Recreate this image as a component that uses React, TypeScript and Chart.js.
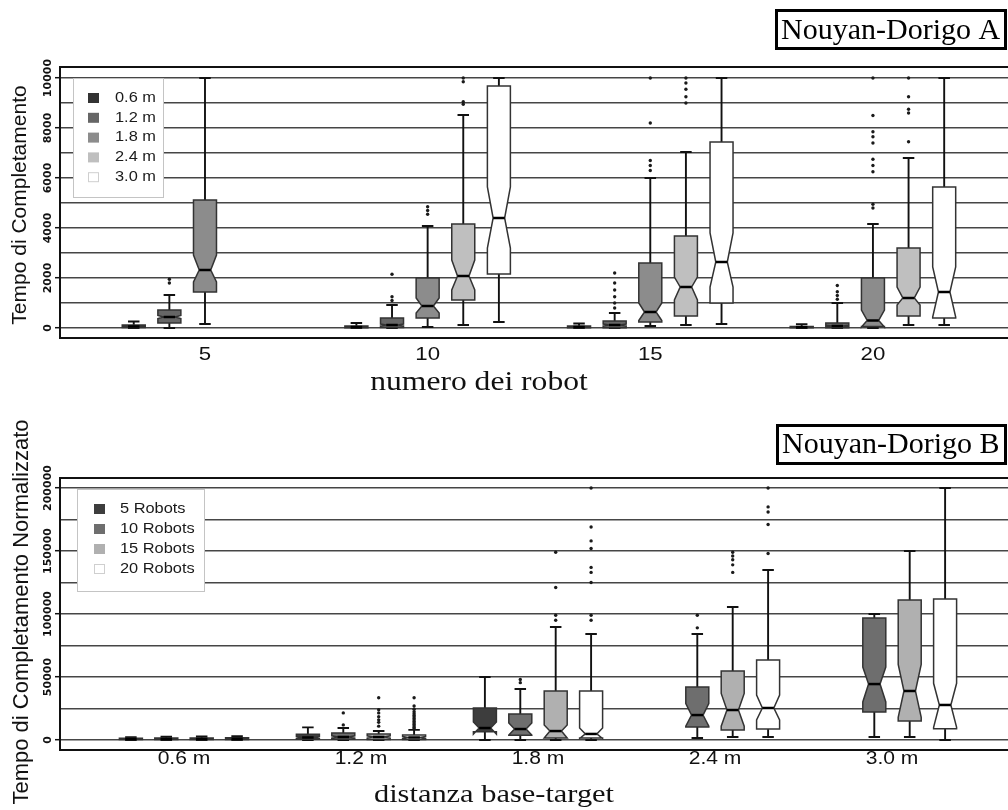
import React, { useEffect, useRef } from 'react';
import { Chart, registerables } from 'chart.js';

Chart.register(...registerables);

// ---------- categories / labels ----------
const robotCounts = [5, 10, 15, 20];
const robotTickLabels = ['5', '10', '15', '20'];
const distances = [0.6, 1.2, 1.8, 2.4, 3.0];
const distanceLabels = ['0.6 m', '1.2 m', '1.8 m', '2.4 m', '3.0 m'];
const robotSeriesLabels = ['5 Robots', '10 Robots', '15 Robots', '20 Robots'];

const yGridA = [0, 1000, 2000, 3000, 4000, 5000, 6000, 7000, 8000, 9000, 10000];
const yTickLabelsA = [0, 2000, 4000, 6000, 8000, 10000];
const yGridB = [0, 25000, 50000, 75000, 100000, 125000, 150000, 175000, 200000];
const yTickLabelsB = [0, 50000, 100000, 150000, 200000];

// ---------- chart A: box stats per robot count ----------
// [whiskerLow, q1, notchLow, median, notchHigh, q3, whiskerHigh]
const boxA06 = [[0, 20, 30, 60, 90, 120, 260], [0, 10, 20, 40, 60, 80, 200], [0, 10, 20, 40, 60, 80, 180], [0, 10, 15, 30, 45, 60, 150]];
const boxA12 = [[0, 200, 380, 440, 500, 720, 1320], [0, 20, 80, 120, 160, 400, 920], [0, 10, 80, 120, 160, 280, 600], [0, 10, 50, 80, 110, 200, 1000]];
const boxA18 = [[160, 1440, 1840, 2320, 2920, 5120, 10000], [40, 400, 600, 880, 1200, 2000, 4080], [80, 240, 300, 640, 1000, 2600, 6000], [0, 60, 40, 300, 720, 2000, 4160]];
const boxA24 = [null, [120, 1120, 1520, 2080, 2720, 4160, 8520], [120, 480, 1120, 1640, 2040, 3680, 7040], [120, 480, 920, 1200, 1640, 3200, 6800]];
const boxA30 = [null, [240, 2160, 3200, 4400, 5640, 9680, 10000], [160, 1000, 1640, 2640, 3800, 7440, 10000], [120, 400, 440, 1440, 2440, 5640, 10000]];

const outA06 = [[], [], [], []];
const outA12 = [[1800, 1950], [1100, 1250, 2150], [800, 1000, 1250, 1520, 1800, 2200], [1150, 1300, 1450, 1700]];
const outA18 = [[], [4550, 4700, 4850], [6300, 6500, 6700, 8200, 10000], [4800, 4950, 6250, 6500, 6750, 7400, 7650, 7850, 8500, 10000]];
const outA24 = [[], [8950, 9050, 9850, 10000], [9000, 9250, 9550, 9800, 10000], [7450, 8600, 8750, 9250, 10000]];
const outA30 = [[], [], [], []];

// ---------- chart B: box stats per distance ----------
const boxB05 = [[0, 300, 500, 800, 1100, 1300, 2200], [0, 500, 1200, 2000, 2800, 4500, 10000], [0, 6500, 4700, 9500, 14300, 25400, 50000], null, null];
const boxB10 = [[0, 300, 600, 900, 1200, 1500, 2600], [0, 500, 1500, 2400, 3300, 5500, 9500], [0, 3800, 4000, 8700, 13500, 20600, 40500], [1600, 10300, 11000, 19800, 29000, 42100, 84100], [2400, 22200, 30200, 44400, 57900, 96800, 100000]];
const boxB15 = [[0, 300, 600, 900, 1200, 1500, 2800], [0, 400, 1500, 2400, 3300, 4800, 7100], [0, 1600, 1600, 7100, 11900, 38900, 89700], [2400, 7900, 11000, 23800, 37000, 54800, 105600], [2400, 15100, 18000, 38900, 60000, 111100, 150000]];
const boxB20 = [[0, 300, 600, 1000, 1400, 1800, 3000], [0, 300, 1200, 2000, 2800, 4000, 8000], [0, 1600, 1200, 4800, 9500, 38900, 84100], [2400, 8700, 15900, 25400, 35700, 63500, 134900], [0, 9000, 10000, 27800, 45000, 112000, 200000]];

const outB05 = [[], [], [], [], []];
const outB10 = [[], [12000, 21500], [45500, 48000], [89000, 99000], []];
const outB15 = [[], [11000, 14000, 16000, 18500, 21500, 24000, 33500], [95000, 99000, 121000, 149000], [133000, 139000, 143000, 146000, 149000], []];
const outB20 = [[], [9000, 10000, 11200, 12300, 13500, 14600, 15800, 17000, 18200, 19500, 20800, 22500, 24500, 27000, 33500], [95000, 99000, 125000, 133000, 137000, 152000, 158000, 169000, 200000], [148000, 171000, 181000, 185000, 200000], []];

// ---------- styles ----------
const fillsA = ['#333333', '#666666', '#8c8c8c', '#bfbfbf', '#ffffff'];
const fillsB = ['#3d3d3d', '#6e6e6e', '#b0b0b0', '#ffffff'];

type Stats = number[] | null;
interface Series { label: string; color: string; boxes: Stats[]; outliers: number[][] }
interface Spec {
  groups: number[]; groupLabels: string[]; step: number; series: Series[];
  xMin: number; xMax: number; yMin: number; yMax: number;
  yGrid: number[]; yLabels: number[];
  padTop: number; axisH: number; axisW: number;
  title: string; titleRect: number[]; titleBase: number[];
  xTitle: string; xTitlePos: number[]; xTitleFont: string;
  yTitle: string; yTitlePos: number[]; yTitleFont: string;
  xLabelY: number; xLabelFont: string;
  legend: { x: number; y: number; w: number; h: number; row0: number; rowStep: number; sqX: number; textX: number };
}

const SX = 1.17;

function drawText(ctx: CanvasRenderingContext2D, s: string, x: number, y: number, font: string,
  o: { align?: CanvasTextAlign; baseline?: CanvasTextBaseline; sx?: number; rot?: number; color?: string } = {}) {
  ctx.save();
  ctx.translate(x, y);
  if (o.rot) ctx.rotate(o.rot);
  if (o.sx) ctx.scale(o.sx, 1);
  ctx.font = font;
  ctx.fillStyle = o.color || '#111';
  ctx.textAlign = o.align || 'center';
  ctx.textBaseline = o.baseline || 'alphabetic';
  ctx.fillText(s, 0, 0);
  ctx.restore();
}

function offsetFn(spec: Spec) {
  const n = spec.series.length;
  return (j: number) => (j - (n - 1) / 2) * spec.step;
}

function makePlugin(spec: Spec) {
  const off = offsetFn(spec);
  return {
    id: 'boxplotDraw',
    beforeDatasetsDraw(chart: any) {
      const { ctx, scales } = chart;
      const xs = scales.x, ys = scales.y;
      const hw = 11.5;
      ctx.save();
      spec.series.forEach((s, j) => {
        s.boxes.forEach((b, i) => {
          if (!b) return;
          const [lo, q1, nlo, med, nhi, q3, hi] = b.map((v) => ys.getPixelForValue(v));
          const cx = xs.getPixelForValue(spec.groups[i] + off(j));
          ctx.strokeStyle = '#111';
          ctx.lineWidth = 1.9;
          ctx.beginPath();
          ctx.moveTo(cx, q1); ctx.lineTo(cx, lo);
          ctx.moveTo(cx, q3); ctx.lineTo(cx, hi);
          ctx.moveTo(cx - hw / 2, lo); ctx.lineTo(cx + hw / 2, lo);
          ctx.moveTo(cx - hw / 2, hi); ctx.lineTo(cx + hw / 2, hi);
          ctx.stroke();
          ctx.beginPath();
          ctx.moveTo(cx - hw, q1);
          ctx.lineTo(cx - hw, nlo);
          ctx.lineTo(cx - hw / 2, med);
          ctx.lineTo(cx - hw, nhi);
          ctx.lineTo(cx - hw, q3);
          ctx.lineTo(cx + hw, q3);
          ctx.lineTo(cx + hw, nhi);
          ctx.lineTo(cx + hw / 2, med);
          ctx.lineTo(cx + hw, nlo);
          ctx.lineTo(cx + hw, q1);
          ctx.closePath();
          ctx.fillStyle = s.color;
          ctx.fill();
          ctx.strokeStyle = '#333';
          ctx.lineWidth = 1.5;
          ctx.stroke();
          ctx.strokeStyle = '#000';
          ctx.lineWidth = 2.5;
          ctx.beginPath();
          ctx.moveTo(cx - hw / 2, med); ctx.lineTo(cx + hw / 2, med);
          ctx.stroke();
        });
      });
      ctx.restore();
    },
    afterDatasetsDraw(chart: any) {
      const { ctx, chartArea } = chart;
      ctx.save();
      ctx.strokeStyle = '#111';
      ctx.lineWidth = 2;
      ctx.beginPath();
      ctx.moveTo(chartArea.left - 1, chartArea.top);
      ctx.lineTo(chartArea.right, chartArea.top);
      ctx.stroke();
      const L = spec.legend;
      ctx.fillStyle = '#fff';
      ctx.fillRect(L.x, L.y, L.w, L.h);
      ctx.strokeStyle = '#c4c4c4';
      ctx.lineWidth = 1;
      ctx.strokeRect(L.x, L.y, L.w, L.h);
      spec.series.forEach((s, k) => {
        const cy = L.row0 + k * L.rowStep;
        ctx.fillStyle = s.color;
        ctx.fillRect(L.sqX, cy - 5, 11, 10);
        if (s.color === '#ffffff') {
          ctx.strokeStyle = '#cfcfcf';
          ctx.lineWidth = 1;
          ctx.strokeRect(L.sqX + 0.5, cy - 4.5, 10, 9);
        }
        drawText(ctx, s.label, L.textX, cy, '14px "Liberation Sans"', { align: 'left', baseline: 'middle', sx: SX, color: '#1a1a1a' });
      });
      ctx.restore();
    },
    afterDraw(chart: any) {
      const { ctx, scales } = chart;
      const xs = scales.x, ys = scales.y;
      spec.yLabels.forEach((v) => {
        drawText(ctx, String(v), 51, ys.getPixelForValue(v), 'bold 11px "DejaVu Sans"', { rot: -Math.PI / 2, align: 'center', baseline: 'alphabetic', color: '#111' });
      });
      spec.groups.forEach((g, i) => {
        drawText(ctx, spec.groupLabels[i], xs.getPixelForValue(g), spec.xLabelY, spec.xLabelFont, { baseline: 'middle', sx: SX, color: '#111' });
      });
      drawText(ctx, spec.xTitle, spec.xTitlePos[0], spec.xTitlePos[1], spec.xTitleFont, { sx: SX, color: '#111' });
      drawText(ctx, spec.yTitle, spec.yTitlePos[0], spec.yTitlePos[1], spec.yTitleFont, { rot: -Math.PI / 2, color: '#111' });
      ctx.save();
      ctx.fillStyle = '#fff';
      const r = spec.titleRect;
      ctx.fillRect(r[0], r[1], r[2], r[3]);
      ctx.strokeStyle = '#000';
      ctx.lineWidth = 3;
      ctx.strokeRect(r[0], r[1], r[2], r[3]);
      ctx.restore();
      drawText(ctx, spec.title, spec.titleBase[0], spec.titleBase[1], '30px "Liberation Serif"', { align: 'left', color: '#000' });
    },
  };
}

function makeConfig(spec: Spec): any {
  const off = offsetFn(spec);
  const labelSet = new Set(spec.yLabels);
  return {
    type: 'scatter',
    data: {
      datasets: spec.series.map((s, j) => ({
        label: s.label,
        data: s.outliers.flatMap((arr, i) => arr.map((v) => ({ x: spec.groups[i] + off(j), y: v }))),
        pointRadius: 1.7,
        pointBackgroundColor: '#1a1a1a',
        pointBorderWidth: 0,
        pointHoverRadius: 0,
      })),
    },
    options: {
      animation: false,
      responsive: false,
      events: [],
      layout: { padding: { top: spec.padTop, left: 0, right: 0, bottom: 0 }, autoPadding: false },
      plugins: { legend: { display: false }, tooltip: { enabled: false }, title: { display: false } },
      scales: {
        x: {
          type: 'linear', min: spec.xMin, max: spec.xMax, bounds: 'data',
          afterBuildTicks: (sc: any) => { sc.ticks = spec.groups.map((v) => ({ value: v })); },
          afterFit: (sc: any) => { sc.height = spec.axisH; },
          ticks: { display: false },
          grid: { display: false, drawTicks: false },
          border: { display: true, color: '#111', width: 2 },
        },
        y: {
          type: 'linear', min: spec.yMin, max: spec.yMax, bounds: 'data',
          afterBuildTicks: (sc: any) => { sc.ticks = spec.yGrid.map((v) => ({ value: v })); },
          afterFit: (sc: any) => { sc.width = spec.axisW; },
          ticks: { display: false },
          grid: {
            color: '#464646', lineWidth: 1.4, drawTicks: true, tickLength: 5, tickWidth: 1.5,
            tickColor: (c: any) => (c.tick && labelSet.has(c.tick.value) ? '#111' : 'rgba(0,0,0,0)'),
          },
          border: { display: true, color: '#111', width: 2 },
        },
      },
    },
    plugins: [makePlugin(spec)],
  };
}

const specA: Spec = {
  groups: robotCounts, groupLabels: robotTickLabels, step: 0.8,
  series: [
    { label: distanceLabels[0], color: fillsA[0], boxes: boxA06, outliers: outA06 },
    { label: distanceLabels[1], color: fillsA[1], boxes: boxA12, outliers: outA12 },
    { label: distanceLabels[2], color: fillsA[2], boxes: boxA18, outliers: outA18 },
    { label: distanceLabels[3], color: fillsA[3], boxes: boxA24, outliers: outA24 },
    { label: distanceLabels[4], color: fillsA[4], boxes: boxA30, outliers: outA30 },
  ],
  xMin: 1.744, xMax: 23.033, yMin: -400, yMax: 10440,
  yGrid: yGridA, yLabels: yTickLabelsA,
  padTop: 67, axisH: 62, axisW: 60,
  title: 'Nouyan-Dorigo A', titleRect: [776.5, 10.5, 229, 38], titleBase: [781, 39],
  xTitle: 'numero dei robot', xTitlePos: [479, 390], xTitleFont: '27px "Liberation Serif"',
  yTitle: 'Tempo di Completamento', yTitlePos: [26, 205], yTitleFont: '21px "Liberation Sans"',
  xLabelY: 355, xLabelFont: '19px "Liberation Sans"',
  legend: { x: 73.5, y: 78.5, w: 90, h: 119, row0: 98, rowStep: 19.8, sqX: 88, textX: 115 },
};

const specB: Spec = {
  groups: distances, groupLabels: distanceLabels, step: 0.12,
  series: [
    { label: robotSeriesLabels[0], color: fillsB[0], boxes: boxB05, outliers: outB05 },
    { label: robotSeriesLabels[1], color: fillsB[1], boxes: boxB10, outliers: outB10 },
    { label: robotSeriesLabels[2], color: fillsB[2], boxes: boxB15, outliers: outB15 },
    { label: robotSeriesLabels[3], color: fillsB[3], boxes: boxB20, outliers: outB20 },
  ],
  xMin: 0.1797, xMax: 3.3932, yMin: -7937, yMax: 207937,
  yGrid: yGridB, yLabels: yTickLabelsB,
  padTop: 78, axisH: 60, axisW: 60,
  title: 'Nouyan-Dorigo B', titleRect: [777.5, 25.5, 228, 38], titleBase: [782, 53],
  xTitle: 'distanza base-target', xTitlePos: [494, 402], xTitleFont: '26px "Liberation Serif"',
  yTitle: 'Tempo di Completamento Normalizzato', yTitlePos: [28, 212], yTitleFont: '22px "Liberation Sans"',
  xLabelY: 359, xLabelFont: '18px "Liberation Sans"',
  legend: { x: 77.5, y: 89.5, w: 127, h: 102, row0: 109, rowStep: 20, sqX: 94, textX: 120 },
};

function BoxChart({ spec, width, height }: { spec: Spec; width: number; height: number }) {
  const ref = useRef<HTMLCanvasElement>(null);
  useEffect(() => {
    const chart = new Chart(ref.current as HTMLCanvasElement, makeConfig(spec));
    return () => chart.destroy();
  }, [spec]);
  return <canvas ref={ref} width={width} height={height} style={{ display: 'block', width, height }} />;
}

export default function App() {
  return (
    <div style={{ position: 'absolute', left: 0, top: 0, width: 1008, height: 810, background: '#fff', overflow: 'hidden' }}>
      <BoxChart spec={specA} width={1008} height={400} />
      <BoxChart spec={specB} width={1008} height={410} />
    </div>
  );
}
